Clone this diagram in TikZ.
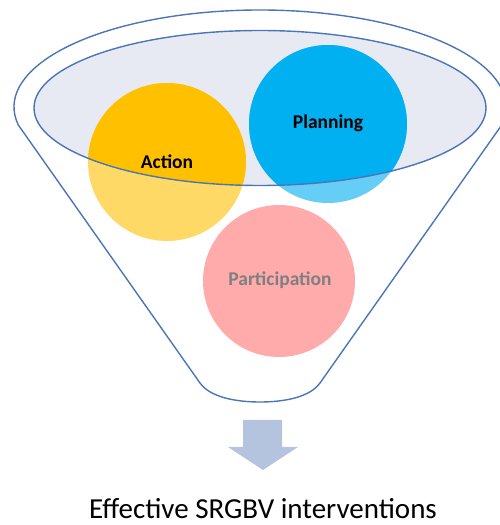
\documentclass[tikz,border=0pt]{standalone}
\usepackage{fontspec}
\setmainfont{Carlito}
\definecolor{outline}{HTML}{4A76B8}
\definecolor{innerfill}{HTML}{E7EAF2}
\definecolor{actfull}{HTML}{FFC000}
\definecolor{actlight}{HTML}{FFD966}
\definecolor{planfull}{HTML}{00B0F0}
\definecolor{planlight}{HTML}{66CDF6}
\definecolor{partfill}{HTML}{FFABAB}
\definecolor{parttext}{HTML}{7F7F7F}
\definecolor{arrowfill}{HTML}{B4C4DE}
\tikzset{
  funnelline/.style={draw=outline, line width=1.4pt, line join=round},
  circlabel/.style={font=\fontsize{19.5}{22}\selectfont\bfseries, text=black},
}
\begin{document}
\begin{tikzpicture}[x=1pt,y=1pt]
\useasboundingbox (0,0) rectangle (499,525);
% outer funnel
\draw[funnelline] (18.3,400) arc[start angle=190.7, end angle=-10.7, x radius=246pt, y radius=97pt]
  -- (320,142) .. controls (310,128) and (285,123) .. (260,123)
  .. controls (235,123) and (210,128) .. (200,142) -- cycle;
% inner ellipse fill
\fill[innerfill] (260,417) ellipse [x radius=226pt, y radius=77.5pt];
% circles light
\fill[actlight] (167,363) circle (79pt);
\fill[planlight] (328,401) circle (79pt);
\begin{scope}
  \clip (260,417) ellipse [x radius=226pt, y radius=77.5pt];
  \fill[actfull] (167,363) circle (79pt);
  \fill[planfull] (328,401) circle (79pt);
\end{scope}
\draw[outline, line width=1.4pt] (260,417) ellipse [x radius=226pt, y radius=77.5pt];
\fill[partfill] (279,244) circle (76pt);
\node[circlabel] (action) at (167,363) {Action};
\node[circlabel] (planning) at (328,402) {Planning};
\node[circlabel, text=parttext] (participation) at (280,245) {Participation};
% arrow
\fill[arrowfill] (243,105) -- (282,105) -- (282,78) -- (298,78) -- (263,55) -- (228,78) -- (243,78) -- cycle;
\node[font=\fontsize{29}{34}\selectfont, anchor=base, inner sep=0pt, text depth=0pt] (result) at (263,6) {Effective SRGBV interventions};
\end{tikzpicture}
\end{document}
